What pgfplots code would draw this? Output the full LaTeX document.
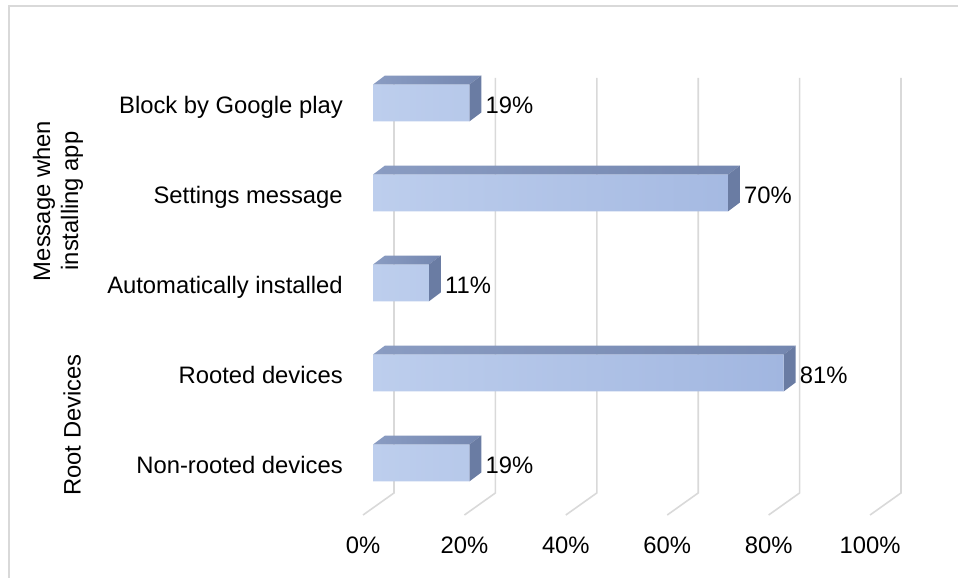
\documentclass[border=0pt]{standalone}
\usepackage{fontspec}
\setmainfont{Liberation Sans}
\usepackage{pgfplots}
\pgfplotsset{compat=1.18}
\usepackage{pgfplotstable}

\definecolor{frontL}{HTML}{BDCEED}
\definecolor{frontR}{HTML}{A1B6E0}
\definecolor{topL}{HTML}{8A9CC2}
\definecolor{topR}{HTML}{7487B0}
\definecolor{sideF}{HTML}{6A7CA3}
\definecolor{gridc}{HTML}{D9D9D9}
\definecolor{borderc}{HTML}{D9D9D9}

\pgfplotstableread{
y v
0 19
1 81
2 11
3 70
4 19
}\bars

\begin{document}
\begin{tikzpicture}[font=\fontsize{17.85}{21}\selectfont]
\begin{axis}[
  scale only axis, width=718.5pt, height=433.5pt,
  xmin=-73.57, xmax=115.38, ymin=-1.2778, ymax=5.1444,
  clip=false,
  axis line style={draw=none}, major tick length=0pt,
  xtick={0,20,...,100},
  xticklabels={0\%,20\%,40\%,60\%,80\%,100\%},
  xticklabel style={anchor=center, xshift=-7.5pt, yshift=24.75pt},
  ytick={0,1,2,3,4},
  yticklabels={Non-rooted devices,Rooted devices,Automatically installed,Settings message,Block by Google play},
  yticklabel style={anchor=east, inner sep=0pt, text height=13pt, text depth=3.8pt, xshift=257.25pt, yshift=-3.3pt},
]
% outer frame
\draw[borderc, line width=1.5pt] (rel axis cs:0.0094,-0.05) -- (rel axis cs:0.0094,0.9896) -- (rel axis cs:1.05,0.9896);
% grid (back wall + floor)
\draw[gridc, line width=1.2pt] (axis cs:4.14,4.278) -- (axis cs:4.14,-0.333) -- (axis cs:-1.97,-0.578);
\draw[gridc, line width=1.2pt] (axis cs:24.14,4.278) -- (axis cs:24.14,-0.333) -- (axis cs:18.03,-0.578);
\draw[gridc, line width=1.2pt] (axis cs:44.14,4.278) -- (axis cs:44.14,-0.333) -- (axis cs:38.03,-0.578);
\draw[gridc, line width=1.2pt] (axis cs:64.14,4.278) -- (axis cs:64.14,-0.333) -- (axis cs:58.03,-0.578);
\draw[gridc, line width=1.2pt] (axis cs:84.14,4.278) -- (axis cs:84.14,-0.333) -- (axis cs:78.03,-0.578);
\draw[gridc, line width=1.2pt] (axis cs:104.14,4.278) -- (axis cs:104.14,-0.333) -- (axis cs:98.03,-0.578);

% top faces
\addplot[draw=none, mark=none, left color=topL, right color=topR] coordinates {(0,0.205) (19,0.205) (21.37,0.305) (2.37,0.305)} -- cycle;
\addplot[draw=none, mark=none, left color=topL, right color=topR] coordinates {(0,1.205) (81,1.205) (83.37,1.305) (2.37,1.305)} -- cycle;
\addplot[draw=none, mark=none, left color=topL, right color=topR] coordinates {(0,2.205) (11,2.205) (13.37,2.305) (2.37,2.305)} -- cycle;
\addplot[draw=none, mark=none, left color=topL, right color=topR] coordinates {(0,3.205) (70,3.205) (72.37,3.305) (2.37,3.305)} -- cycle;
\addplot[draw=none, mark=none, left color=topL, right color=topR] coordinates {(0,4.205) (19,4.205) (21.37,4.305) (2.37,4.305)} -- cycle;
% side faces
\addplot[draw=none, mark=none, fill=sideF] coordinates {(19,-0.205) (21.37,-0.105) (21.37,0.305) (19,0.205)} -- cycle;
\addplot[draw=none, mark=none, fill=sideF] coordinates {(81,0.795) (83.37,0.895) (83.37,1.305) (81,1.205)} -- cycle;
\addplot[draw=none, mark=none, fill=sideF] coordinates {(11,1.795) (13.37,1.895) (13.37,2.305) (11,2.205)} -- cycle;
\addplot[draw=none, mark=none, fill=sideF] coordinates {(70,2.795) (72.37,2.895) (72.37,3.305) (70,3.205)} -- cycle;
\addplot[draw=none, mark=none, fill=sideF] coordinates {(19,3.795) (21.37,3.895) (21.37,4.305) (19,4.205)} -- cycle;
% front faces
\addplot[xbar, bar width=0.41, draw=none, left color=frontL, right color=frontR,
  point meta=x,
  nodes near coords={\pgfmathprintnumber[assume math mode=true]{\pgfplotspointmeta}\%},
  every node near coord/.append style={anchor=west, inner sep=0pt, xshift=12pt, yshift=-1.5pt, black}]
  table[x=v, y=y] {\bars};

% group labels
\node[rotate=90, align=center] at (axis cs:-62.13,2.911) {Message when\\installing app};
\node[rotate=90] at (axis cs:-59.37,0.422) {Root Devices};
\end{axis}
\pgfresetboundingbox
\path[use as bounding box] (0,0) rectangle (718.5pt,433.5pt);
\end{tikzpicture}
\end{document}
